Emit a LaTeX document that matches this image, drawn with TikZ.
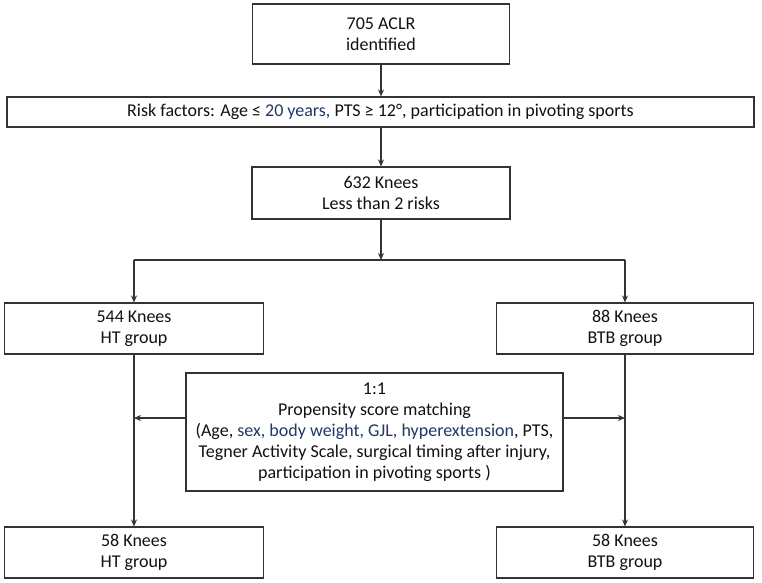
\documentclass[tikz,border=0pt]{standalone}
\usepackage{fontspec}
\setmainfont{Carlito}
\usetikzlibrary{arrows.meta}
\definecolor{txt}{HTML}{111111}
\definecolor{navy}{HTML}{1F3864}
\definecolor{ln}{HTML}{333333}
\begin{document}
\begin{tikzpicture}[x=1pt,y=-1pt,
  box/.style={draw=ln,line width=1.1pt,inner sep=0pt,align=center,text=txt,
    font=\fontsize{18}{21}\selectfont},
  arr/.style={draw=ln,line width=1.2pt,-{Stealth[length=7pt,width=6pt]}},
  ln/.style={draw=ln,line width=1.2pt}]
\useasboundingbox (0,0) rectangle (762,582);
\node[box,minimum width=257pt,minimum height=60pt] (b1) at (381,34) {705 ACLR\\identified};
\node[box,minimum width=747pt,minimum height=30pt] (b2) at (380.5,112) {Risk factors: Age ≤ \textcolor{navy}{20 years,} PTS ≥ 12°, participation in pivoting sports};
\node[box,minimum width=258pt,minimum height=52pt] (b3) at (381,193) {632 Knees\\Less than 2 risks};
\node[box,minimum width=259pt,minimum height=51pt] (b4) at (134,328.5) {544 Knees\\HT group};
\node[box,minimum width=257pt,minimum height=51pt] (b5) at (625,328.5) {88 Knees\\BTB group};
\node[box,minimum width=377pt,minimum height=118pt] (pm) at (374.5,432) {1:1\\Propensity score matching\\(Age, \textcolor{navy}{sex, body weight, GJL, hyperextension}, PTS,\\Tegner Activity Scale, surgical timing after injury,\\participation in pivoting sports )};
\node[box,minimum width=259pt,minimum height=51pt] (b6) at (134,552.5) {58 Knees\\HT group};
\node[box,minimum width=257pt,minimum height=51pt] (b7) at (625,552.5) {58 Knees\\BTB group};
\coordinate (br) at (381,260);
\coordinate (brl) at (134,260);
\coordinate (brr) at (625,260);
\coordinate (pl) at (186,418);
\coordinate (pr) at (563,418);
\draw[arr] (b1) -- (b1 |- b2.north);
\draw[arr] (b2.south -| b3) -- (b3);
\draw[arr] (b3) -- (br);
\draw[ln] (brl) -- (brr);
\draw[arr] (brl) -- (b4);
\draw[arr] (brr) -- (b5);
\draw[arr] (b4) -- (b6);
\draw[arr] (b5) -- (b7);
\draw[arr] (pl) -- (pl -| b4);
\draw[arr] (pr) -- (pr -| b5);
\end{tikzpicture}
\end{document}
